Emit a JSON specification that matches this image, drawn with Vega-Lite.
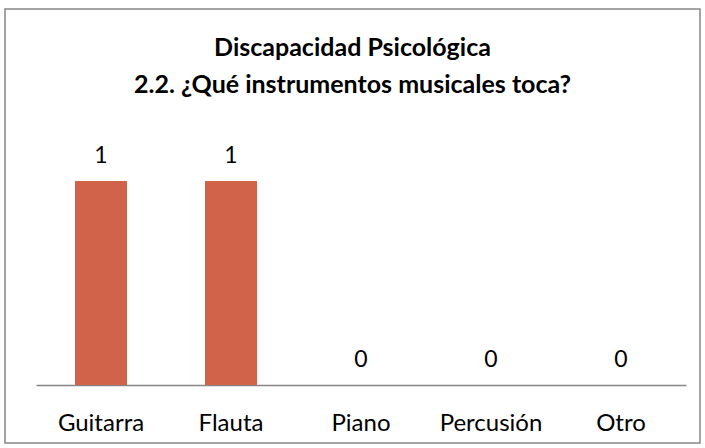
{
  "$schema": "https://vega.github.io/schema/vega-lite/v6.json",
  "autosize": "none",
  "width": 695,
  "height": 434,
  "padding": {"left": 5, "top": 9, "right": 5, "bottom": 5},
  "background": "white",
  "title": {
    "text": ["Discapacidad Psicológica", "2.2. ¿Qué instrumentos musicales toca?"],
    "font": "Lato",
    "fontSize": 25,
    "fontWeight": "bold",
    "color": "#000000",
    "anchor": "middle",
    "lineHeight": 37,
    "baseline": "top",
    "offset": -32,
    "dy": 57
  },
  "data": {
    "values": [
      {"instrumento": "Guitarra", "valor": 1},
      {"instrumento": "Flauta", "valor": 1},
      {"instrumento": "Piano", "valor": 0},
      {"instrumento": "Percusión", "valor": 0},
      {"instrumento": "Otro", "valor": 0}
    ]
  },
  "encoding": {
    "x": {
      "field": "instrumento",
      "type": "nominal",
      "sort": null,
      "scale": {"range": [31, 681], "paddingInner": 0.6, "paddingOuter": 0.3},
      "axis": {
        "title": null,
        "labelAngle": 0,
        "ticks": false,
        "offset": -58,
        "domainColor": "#868686",
        "domainWidth": 1.5,
        "labelFont": "Lato",
        "labelFontSize": 24,
        "labelColor": "#000000",
        "labelBaseline": "alphabetic",
        "labelPadding": 45
      }
    },
    "y": {
      "field": "valor",
      "type": "quantitative",
      "scale": {"domain": [-0.2843, 1.8431], "nice": false, "zero": false},
      "axis": null
    }
  },
  "layer": [
    {
      "mark": {"type": "bar", "color": "#D1634A"},
      "encoding": {"y2": {"datum": 0}}
    },
    {
      "mark": {"type": "text", "font": "Lato", "fontSize": 23, "baseline": "alphabetic", "dy": -18, "color": "#000000"},
      "encoding": {"text": {"field": "valor", "type": "quantitative"}}
    }
  ],
  "config": {
    "view": {"stroke": "#868686", "strokeWidth": 1.5}
  }
}
